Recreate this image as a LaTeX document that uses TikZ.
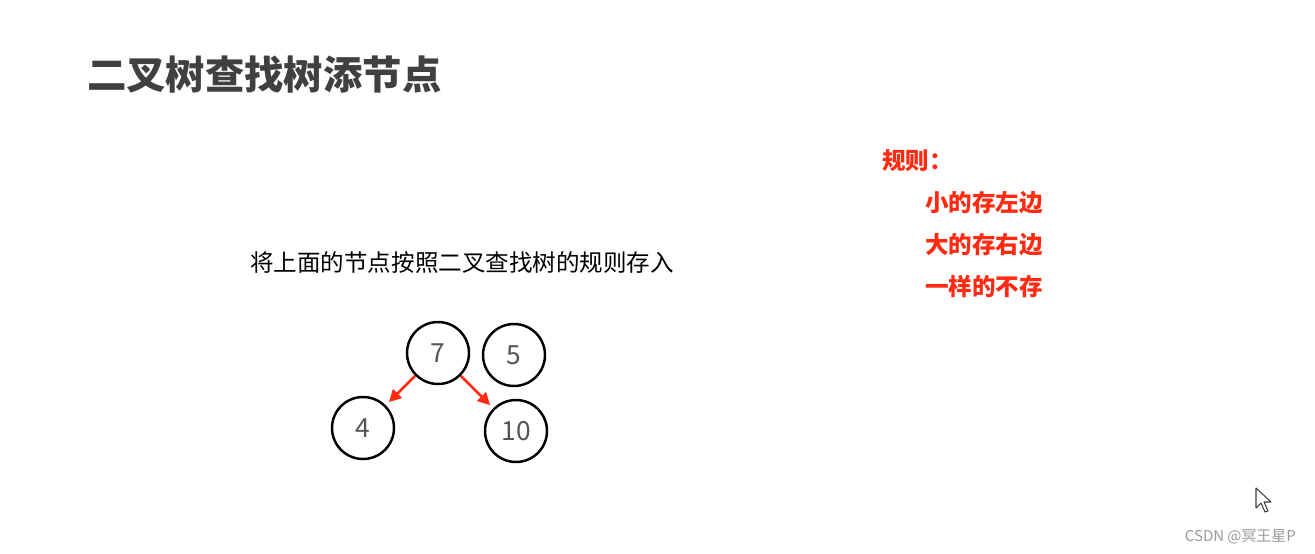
\documentclass[tikz,border=0pt]{standalone}
\usepackage{fontspec}
\setmainfont{Noto Sans CJK SC}
\newfontfamily\cjk{Noto Sans CJK SC}
\definecolor{titlegray}{HTML}{404040}
\definecolor{rulered}{HTML}{FF2A12}
\definecolor{digitgray}{HTML}{555555}
\definecolor{markgray}{HTML}{9A9A9A}
\tikzset{
  keynode/.style={circle,draw=black,line width=1.4pt,minimum size=1.24cm,inner sep=0pt,
    font=\fontsize{15}{17}\selectfont,text=digitgray},
  insertarrow/.style={-{Triangle[length=7pt,width=7pt]},draw=rulered,line width=1.6pt,shorten >=2.5pt},
  ruletext/.style={anchor=west,text=rulered,font=\cjk\bfseries\fontsize{13.4}{16}\selectfont}
}
\usetikzlibrary{arrows.meta}
\begin{document}
\begin{tikzpicture}[x=0.02cm,y=-0.02cm]
\useasboundingbox[fill=white] (0,0) rectangle (1315,554);
% title and task
\node[anchor=west,text=titlegray,font=\cjk\bfseries\fontsize{22.4}{26}\selectfont] (title) at (81,75) {二叉树查找树添节点};
\node[anchor=west,font=\cjk\fontsize{13.4}{16}\selectfont] (task) at (244,263) {将上面的节点按照二叉查找树的规则存入};
% rules
\node[ruletext] (rules) at (876,161) {规则：};
\node[ruletext] (ruleA) at (919,203) {小的存左边};
\node[ruletext] (ruleB) at (919,245) {大的存右边};
\node[ruletext] (ruleC) at (919,287) {一样的不存};
% tree
\node[keynode] (n7) at (438,353) {7};
\node[keynode] (n5) at (514,355) {5};
\node[keynode] (n4) at (363,428) {4};
\node[keynode] (n10) at (516,431) {10};
\draw[insertarrow] (n7) -- (n4);
\draw[insertarrow] (n7) -- (n10);
% cursor
\draw[fill=white,draw=black!75,line width=0.6pt,line join=round]
  (1256,488) -- (1256,508) -- (1261,503) -- (1265,512) -- (1268,511) -- (1264,502) -- (1271,502) -- cycle;
% watermark
\node[anchor=east,text=markgray,font=\cjk\fontsize{8.5}{10}\selectfont] (mark) at (1302,537) {CSDN @冥王星P};
\end{tikzpicture}
\end{document}
